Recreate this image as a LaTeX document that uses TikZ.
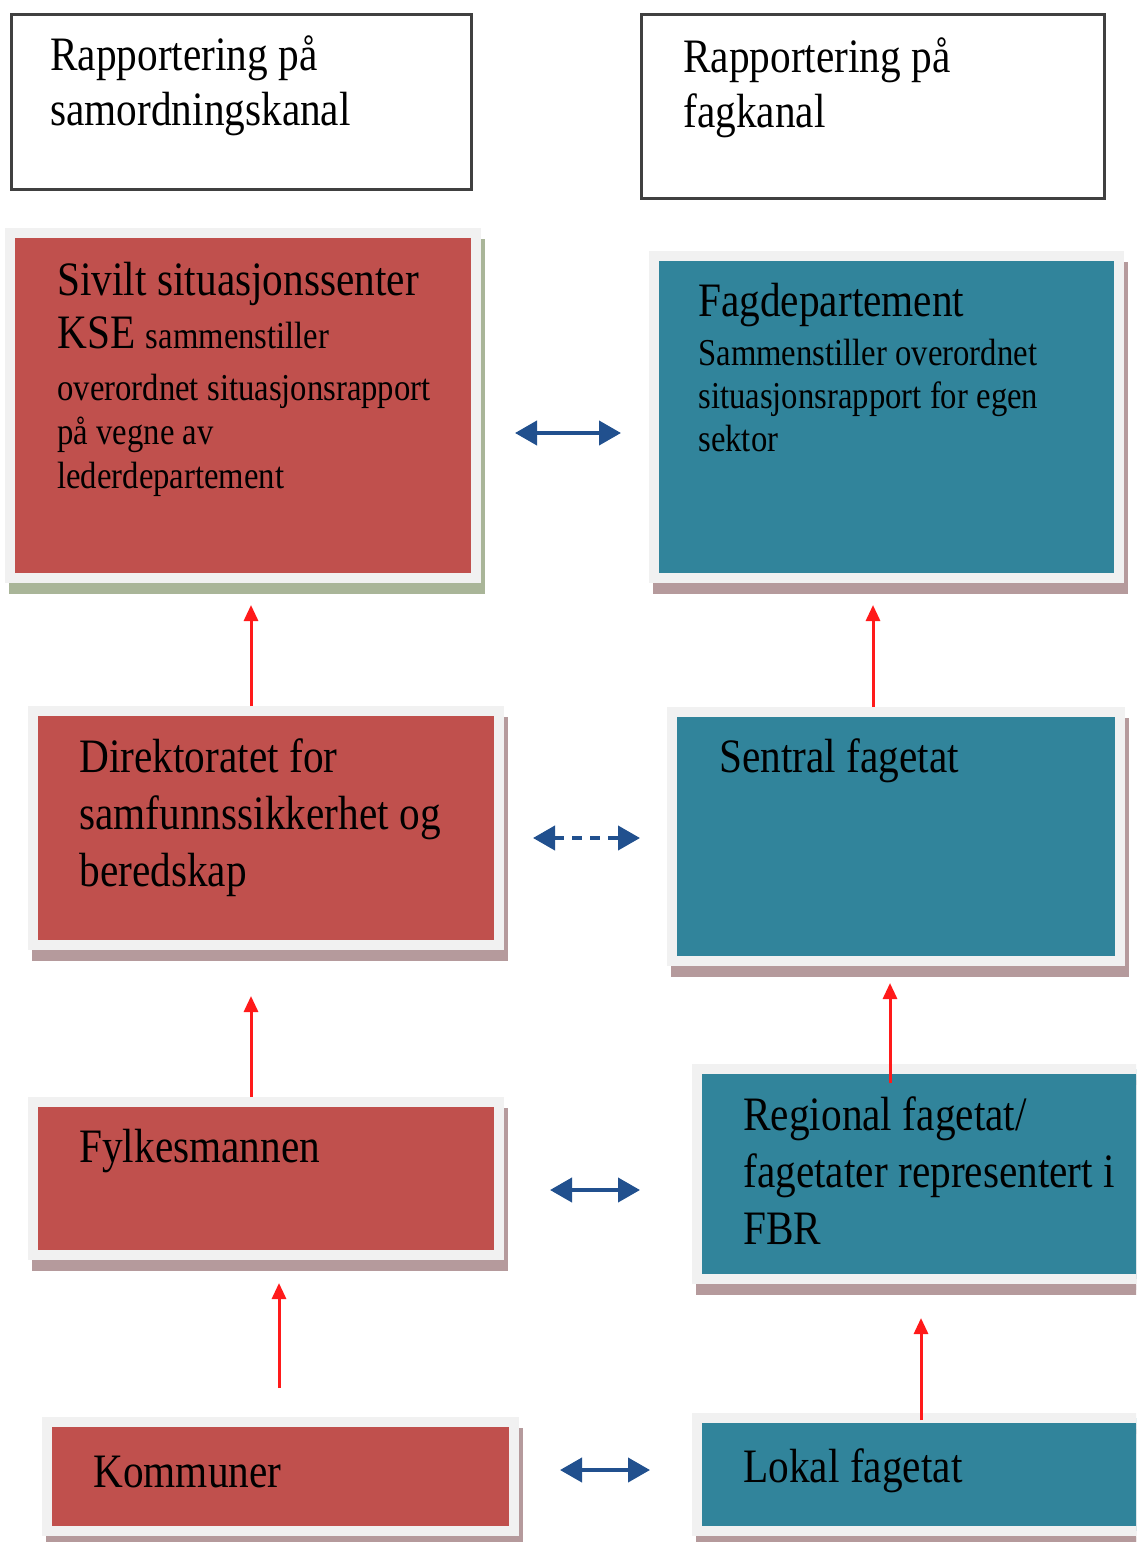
\documentclass[tikz,border=0pt]{standalone}
\usepackage{fontspec}
\setmainfont[FakeStretch=0.86]{Liberation Serif}
\usepackage{tikz}
\usepackage{xcolor}
\usetikzlibrary{arrows.meta, shadows}
\definecolor{redfill}{HTML}{C0504D}
\definecolor{bluefill}{HTML}{31849B}
\definecolor{framegray}{HTML}{F1F1F1}
\definecolor{redshade}{HTML}{B59A9C}
\definecolor{greenshade}{HTML}{A9B598}
\definecolor{headline}{HTML}{404040}
\definecolor{linkblue}{HTML}{21508E}
\definecolor{upred}{HTML}{FF1A1A}
\tikzset{
  head/.style={draw=headline, line width=1.5pt, fill=white},
  redbox/.style={
    fill=redfill, draw=framegray, line width=5pt, inner sep=0pt,
    drop shadow={shadow xshift=2pt, shadow yshift=-5.5pt,
                 fill=#1, draw=#1, opacity=1}
  },
  redbox/.default=redshade,
  bluebox/.style={
    fill=bluefill, draw=framegray, line width=5pt, inner sep=0pt,
    drop shadow={shadow xshift=2pt, shadow yshift=-5.5pt,
                 fill=redshade, draw=redshade, opacity=1}
  },
  txt/.style={anchor=base west, inner sep=0pt, text width=225pt,
    align=left, font=\bigtext},
  up/.style={draw=upred, line width=1.5pt,
    -{Triangle[length=8pt, width=7pt]}},
  both/.style={draw=linkblue, line width=2pt,
    {Triangle[length=11pt, width=12pt]}-{Triangle[length=11pt, width=12pt]}},
}
\newcommand{\wsp}{\hspace{0.22em}}
\newcommand{\bigtext}{\fontsize{24pt}{28.5pt}\selectfont}
\newcommand{\headtext}{\fontsize{24pt}{27.5pt}\selectfont}
\newcommand{\smalltext}{\fontsize{19pt}{22pt}\selectfont}

\begin{document}
\begin{tikzpicture}[x=0.5pt, y=-0.5pt]
  \clip (0,0) rectangle (1136,1542);
  \fill[white] (0,0) rectangle (1136,1542);

  \node[head, minimum width=230pt, minimum height=87.5pt] (samhead) at (241.5,102) {};
  \node[head, minimum width=231.5pt, minimum height=92pt] (faghead) at (873,106.5) {};
  \node[txt, font=\headtext] (samhead-t) at (50,70) {Rapportering\wsp på\\samordningskanal};
  \node[txt, font=\headtext] (faghead-t) at (683,72) {Rapportering\wsp på\\fagkanal};

  \node[redbox=greenshade, minimum width=233pt, minimum height=172.5pt] (sivilt) at (243,405.5) {};
  \node[bluebox, minimum width=232.5pt, minimum height=161pt] (fagdep) at (886.5,417) {};
  \node[redbox, minimum width=233pt, minimum height=117pt] (direk) at (266,828) {};
  \node[bluebox, minimum width=224pt, minimum height=124.5pt] (sentral) at (896,836.5) {};
  \node[redbox, minimum width=233pt, minimum height=76.5pt] (fylkes) at (266,1178.5) {};
  \node[bluebox, minimum width=229pt, minimum height=105pt] (regional) at (926,1174) {};
  \node[redbox, minimum width=233.5pt, minimum height=54.5pt] (kommuner) at (280.5,1476.5) {};
  \node[bluebox, minimum width=229pt, minimum height=56.5pt] (lokal) at (926,1474.5) {};

  \node[txt] (sivilt-t) at (57,295)
    {{\fontsize{24pt}{26.5pt}\selectfont Sivilt\wsp situasjonssenter\\KSE\wsp{\smalltext sammenstiller}\par}
     \vspace{4pt}\smalltext overordnet\wsp situasjonsrapport\\på\wsp vegne\wsp av\\lederdepartement\par};
  \node[txt] (fagdep-t) at (698,316)
    {{\bigtext Fagdepartement\par}
     \vspace{3pt}\fontsize{19pt}{21.5pt}\selectfont Sammenstiller\wsp overordnet\\situasjonsrapport\wsp for\wsp egen\\sektor\par};
  \node[txt] (direk-t) at (79,772) {Direktoratet\wsp for\\samfunnssikkerhet\wsp og\\beredskap};
  \node[txt] (sentral-t) at (719,772) {Sentral\wsp fagetat};
  \node[txt] (fylkes-t) at (79,1162) {Fylkesmannen};
  \node[txt] (regional-t) at (743,1130) {Regional\wsp fagetat/\\fagetater\wsp representert\wsp i\\FBR};
  \node[txt] (kommuner-t) at (93,1487) {Kommuner};
  \node[txt] (lokal-t) at (743,1482) {Lokal\wsp fagetat};

  \draw[up, shorten >=11pt] (direk.north -| 251,0) -- (sivilt.south -| 251,0);
  \draw[up, shorten >=11pt] (sentral.north -| 873,0) -- (fagdep.south -| 873,0);
  \draw[up, shorten >=23pt] (fylkes.north -| 251,0) -- (direk.south -| 251,0);
  \draw[up, shorten <=-9.5pt, shorten >=8.5pt] (regional.north -| 890,0) -- (sentral.south -| 890,0);
  \draw[up, shorten <=14.5pt, shorten >=11.5pt] (kommuner.north -| 279,0) -- (fylkes.south -| 279,0);
  \draw[up, shorten <=-3.5pt, shorten >=17pt] (lokal.north -| 921,0) -- (regional.south -| 921,0);

  \draw[both, shorten <=17pt, shorten >=14pt] (sivilt.east |- 0,433) -- (fagdep.west |- 0,433);
  \draw[both, dash pattern=on 5pt off 4pt, shorten <=14.5pt, shorten >=13.5pt]
    (direk.east |- 0,838) -- (sentral.west |- 0,838);
  \draw[both, shorten <=23pt, shorten >=26pt] (fylkes.east |- 0,1190) -- (regional.west |- 0,1190);
  \draw[both, shorten <=20.5pt, shorten >=21pt] (kommuner.east |- 0,1470) -- (lokal.west |- 0,1470);
\end{tikzpicture}
\end{document}
